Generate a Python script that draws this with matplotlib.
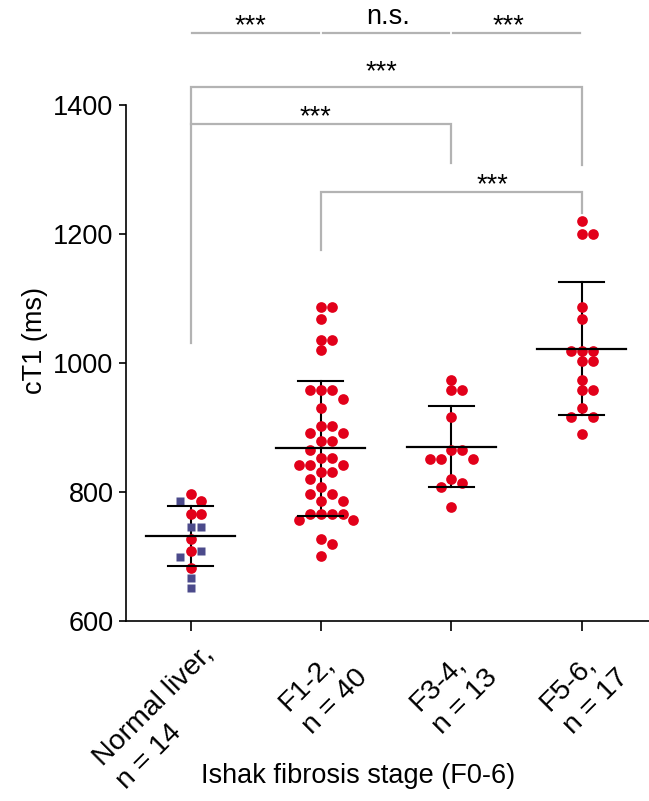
import numpy as np
import matplotlib
matplotlib.use('Agg')
import matplotlib.pyplot as plt
from matplotlib.transforms import ScaledTranslation, blended_transform_factory

plt.rcParams['font.family'] = ['Liberation Sans', 'DejaVu Sans']

# cT1 values (ms)
normal_red = [797, 786, 766, 766, 727, 709, 682]
normal_sq = [786, 746, 746, 709, 699, 667, 651]
f12 = [1087, 1087, 1068, 1036, 1036, 1020, 958, 958, 958, 944, 931, 903, 903,
       892, 892, 880, 880, 866, 853, 853, 842, 842, 842, 831, 831, 820, 808,
       797, 797, 787, 787, 766, 766, 766, 766, 756, 756, 727, 719, 701]
f34 = [974, 958, 958, 917, 866, 866, 852, 852, 852, 820, 814, 808, 777]
f56 = [1221, 1201, 1201, 1087, 1068, 1019, 1019, 1019, 1004, 1004, 974, 958,
       958, 931, 917, 917, 890]

group_names = ['Normal liver,', 'F1-2,', 'F3-4,', 'F5-6,']

# significance comparisons: (group a, group b, label)
top_pairs = [(0, 1, '***'), (1, 2, 'n.s.'), (2, 3, '***')]
bracket_pairs = [(0, 3, '***'), (0, 2, '***'), (1, 3, '***')]

RED = '#e2001a'
PURPLE = '#4b4a8b'
GREY = '#b3b3b3'
FS = 19.5
STEP = 0.083


def swarm_offsets(values, gap=15.0):
    # greedy placement in discrete columns, top value first
    values = np.asarray(values, dtype=float)
    order = np.argsort(-values, kind='stable')
    slots = [0, 1, -1, 2, -2, 3, -3, 4, -4]
    placed = {}
    offs = np.zeros(len(values))
    for i in order:
        v = values[i]
        for s in slots:
            if all(abs(v - u) >= gap for u in placed.get(s, [])):
                placed.setdefault(s, []).append(v)
                offs[i] = s
                break
    return offs * STEP


def draw_mean_sd(ax, x, values):
    m = np.mean(values)
    sd = np.std(values, ddof=1)
    ax.plot([x, x], [m - sd, m + sd], color='black', lw=1.5, zorder=1)
    for y in (m - sd, m + sd):
        ax.plot([x - 0.1725, x + 0.1725], [y, y], color='black', lw=1.5, zorder=4)
    ax.plot([x - 0.341, x + 0.341], [m, m], color='black', lw=1.6, zorder=4)


fig = plt.figure(figsize=(6.49, 8.01), dpi=100)
ax = fig.add_axes([0.1941, 0.2247, 0.8059, 0.6436])

# normal liver: two marker kinds, laid out together
normal_all = np.array(normal_red + normal_sq, dtype=float)
is_red = np.array([True] * len(normal_red) + [False] * len(normal_sq))
off0 = swarm_offsets(normal_all)
ax.plot(off0[is_red], normal_all[is_red], 'o', color=RED, ms=7.7, mec='none', zorder=3)
ax.plot(off0[~is_red], normal_all[~is_red], 's', color=PURPLE, ms=6.2, mec='none', zorder=3)
draw_mean_sd(ax, 0, normal_all)

groups = [normal_all, np.array(f12, float), np.array(f34, float), np.array(f56, float)]
for gi, vals in enumerate(groups[1:], start=1):
    off = swarm_offsets(vals)
    ax.plot(gi + off, vals, 'o', color=RED, ms=7.7, mec='none', zorder=3)
    draw_mean_sd(ax, gi, vals)

# significance lines above the plot
for a, b, lab in top_pairs:
    ax.plot([a + 0.015, b - 0.015], [1512, 1512], color=GREY, lw=1.6, clip_on=False)
top_text_x = [0.456, 1.515, 2.435]
top_text_y = [1512, 1526, 1512]
for (a, b, lab), tx, ty in zip(top_pairs, top_text_x, top_text_y):
    ax.text(tx, ty, lab, ha='center', va='baseline', fontsize=FS, clip_on=False)

bracket_y = [1429, 1371, 1265]
leg_a = [1031, 1371, 1176]
leg_b = [1308, 1311, 1233]
text_pos = [(1.461, 1440), (0.960, 1371), (2.317, 1266)]
for (a, b, lab), y, ya, yb, (tx, ty) in zip(bracket_pairs, bracket_y, leg_a, leg_b, text_pos):
    ax.plot([a, a, b, b], [ya, y, y, yb], color=GREY, lw=1.6, clip_on=False,
            solid_joinstyle='miter')
    ax.text(tx, ty, lab, ha='center', va='baseline', fontsize=FS, clip_on=False)

ax.set_xlim(-0.495, 3.515)
ax.set_ylim(600, 1400)
ax.set_yticks([600, 800, 1000, 1200, 1400])
ax.set_xticks(range(4))
ax.set_xticklabels([])

# rotated group labels, placed just below each tick
labels = [f'{name}\nn = {len(v)}' for name, v in zip(group_names, groups)]
trans = blended_transform_factory(ax.transData, ax.transAxes)
trans = trans + ScaledTranslation(0.10, -0.20, fig.dpi_scale_trans)
for i, lab in enumerate(labels):
    ax.text(i, 0, lab, transform=trans, rotation=45, ha='right', va='top',
            rotation_mode='anchor', multialignment='left', linespacing=1.35,
            fontsize=20.5, clip_on=False)

ax.tick_params(axis='y', labelsize=FS)
ax.tick_params(axis='both', width=1.2, color='black')
ax.tick_params(axis='y', length=5.4)
ax.tick_params(axis='x', length=7.2)
for side in ('top', 'right'):
    ax.spines[side].set_visible(False)
for side in ('left', 'bottom'):
    ax.spines[side].set_linewidth(1.2)

ax.set_ylabel('cT1 (ms)', fontsize=FS)
ax.yaxis.set_label_coords(-0.15, 0.545)
ax.set_xlabel('Ishak fibrosis stage (F0-6)', fontsize=FS)
ax.xaxis.set_label_coords(0.4436, -0.276)

fig.savefig('out.png', dpi=100)
